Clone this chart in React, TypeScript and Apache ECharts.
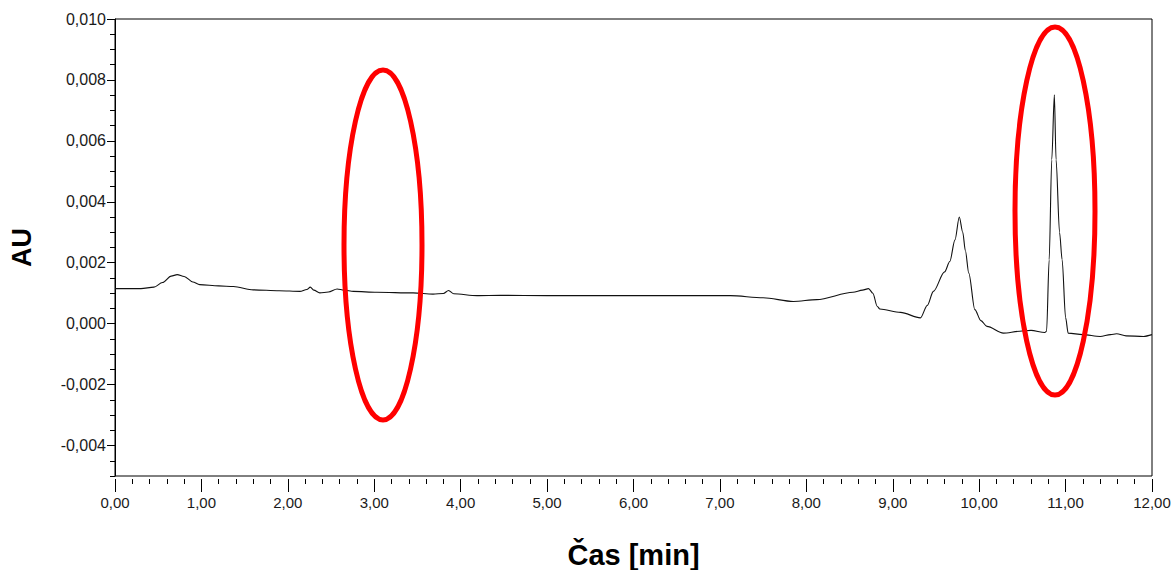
import React, { useEffect, useRef } from "react";
import * as echarts from "echarts";

const timeMin: number[] = [
  0.0, 0.3, 0.45, 0.55, 0.65, 0.72, 0.8, 0.9, 0.98, 1.2, 1.37, 1.6, 1.9, 2.14, 2.22, 2.26, 2.3, 2.37, 2.47, 2.57,
  2.65, 2.76, 3.03, 3.45, 3.68, 3.8, 3.86, 3.92, 4.19, 4.46, 5.0, 6.0, 7.12, 7.5, 7.85, 8.12, 8.54, 8.65, 8.72,
  8.77, 8.82, 8.85, 9.09, 9.32, 9.4, 9.47, 9.6, 9.66, 9.72, 9.77, 9.81, 9.84, 9.88, 9.95, 10.02, 10.09, 10.28,
  10.47, 10.6, 10.76, 10.78, 10.81, 10.84, 10.87, 10.89, 10.93, 10.96, 11.0, 11.03, 11.2, 11.4, 11.52, 11.59,
  11.7, 11.9, 12.0,
];
const absorbanceAU: number[] = [
  0.00115, 0.00115, 0.0012, 0.00135, 0.00156, 0.00161, 0.00155, 0.00137, 0.00128, 0.00124, 0.00122, 0.00111,
  0.00108, 0.00106, 0.00112, 0.0012, 0.0011, 0.00101, 0.00104, 0.00114, 0.0011, 0.00106, 0.00103, 0.00101,
  0.00097, 0.00099, 0.00109, 0.00098, 0.00092, 0.00093, 0.00092, 0.00092, 0.00092, 0.00085, 0.00073, 0.00079,
  0.00103, 0.0011, 0.00115, 0.001, 0.00057, 0.00048, 0.00037, 0.00019, 0.0006, 0.00106, 0.0017, 0.00204,
  0.00275, 0.0035, 0.003, 0.0024, 0.00166, 0.00046, 0.0001, -0.00009, -0.00031, -0.00025, -0.00022, -0.00029,
  -0.00025, 0.0021, 0.00538, 0.00751, 0.00538, 0.003, 0.0021, 0.0002, -0.00031, -0.00036, -0.00042, -0.00036,
  -0.00033, -0.0004, -0.00042, -0.00036,
];
const yMajorTicks: number[] = [-0.004, -0.002, 0.0, 0.002, 0.004, 0.006, 0.008, 0.01];
const xAxisTitle = "Čas [min]";
const yAxisTitle = "AU";

const FONT = "'Liberation Sans', Arial, sans-serif";

export default function App() {
  const ref = useRef<HTMLDivElement>(null);
  useEffect(() => {
    if (!ref.current) return;
    const chart = echarts.init(ref.current, undefined, { renderer: "svg" });
    const fmtY = (v: number) => (Math.abs(v) < 1e-9 ? 0 : v).toFixed(3).replace(".", ",");
    const data = timeMin.map((t, i) => [t, absorbanceAU[i]]);
    chart.setOption({
      animation: false,
      backgroundColor: "#ffffff",
      grid: {
        left: 115,
        right: 22,
        top: 19,
        bottom: 94,
        outerBoundsMode: "none",
        containLabel: false,
        show: true,
        borderColor: "#000",
        borderWidth: 1,
        backgroundColor: "transparent",
      },
      xAxis: {
        type: "value",
        min: 0,
        max: 12,
        interval: 1,
        offset: 3,
        name: xAxisTitle,
        nameLocation: "middle",
        nameGap: 61,
        nameTextStyle: { fontFamily: FONT, fontWeight: "bold", fontSize: 29, color: "#000" },
        axisLine: { show: false, onZero: false },
        axisTick: { show: true, length: 13, lineStyle: { color: "#000", width: 1 } },
        minorTick: { show: true, splitNumber: 5, length: 5, lineStyle: { color: "#000", width: 1 } },
        axisLabel: {
          margin: 16,
          fontFamily: FONT,
          fontSize: 15,
          color: "#1a1a1a",
          formatter: (v: number) => v.toFixed(2).replace(".", ","),
        },
        splitLine: { show: false },
      },
      yAxis: [
        {
          type: "value",
          min: -0.005,
          max: 0.01,
          interval: 0.0005,
          position: "left",
          axisLine: { show: true, onZero: false, lineStyle: { color: "#000", width: 1 } },
          axisTick: { show: true, length: 5, lineStyle: { color: "#000", width: 1 } },
          axisLabel: { show: false },
          splitLine: { show: false },
        },
        {
          type: "value",
          min: -0.005,
          max: 0.01,
          position: "left",
          name: yAxisTitle,
          nameLocation: "middle",
          nameRotate: 90,
          nameGap: 80,
          nameTextStyle: { fontFamily: FONT, fontWeight: "bold", fontSize: 27, color: "#000" },
          axisLine: { show: false, onZero: false },
          axisTick: { show: true, length: 8, customValues: yMajorTicks, lineStyle: { color: "#000", width: 1 } },
          axisLabel: {
            show: true,
            customValues: yMajorTicks,
            margin: 9,
            fontFamily: FONT,
            fontSize: 16,
            color: "#1a1a1a",
            formatter: fmtY,
          },
          splitLine: { show: false },
        },
      ],
      series: [
        {
          type: "line",
          data,
          yAxisIndex: 0,
          showSymbol: false,
          smooth: 0.3,
          smoothMonotone: "x",
          lineStyle: { color: "#111", width: 1.1 },
          z: 2,
        },
      ],
      graphic: [
        {
          type: "ellipse",
          shape: { cx: 383, cy: 245, rx: 39, ry: 175 },
          style: { fill: "none", stroke: "#ff0000", lineWidth: 5 },
          z: 10,
        },
        {
          type: "ellipse",
          shape: { cx: 1055, cy: 211, rx: 40, ry: 184 },
          style: { fill: "none", stroke: "#ff0000", lineWidth: 5 },
          z: 10,
        },
      ],
    });
    return () => chart.dispose();
  }, []);
  return (
    <div
      ref={ref}
      style={{ position: "fixed", left: 0, top: 0, width: 1174, height: 570, background: "#fff" }}
    />
  );
}
